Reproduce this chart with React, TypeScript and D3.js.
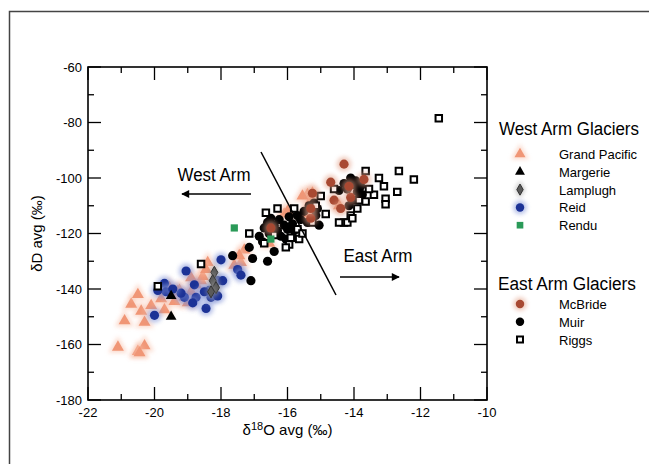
import React from 'react';
import * as d3 from 'd3';

// ---------- data ----------
const xTickValues = [-22, -20, -18, -16, -14, -12, -10];
const yTickValues = [-60, -80, -100, -120, -140, -160, -180];

const grandPacific: [number, number][] = [
  [-21.1, -161], [-20.5, -162.5], [-20.3, -160.5], [-20.45, -163],
  [-20.9, -151.5], [-20.7, -145.5], [-20.5, -142], [-20.4, -148], [-20.3, -152], [-20.1, -146],
  [-19.8, -143.5], [-19.7, -147.5], [-19.4, -144.5], [-19.25, -140.5], [-19.1, -143], [-19.0, -145],
  [-18.9, -141], [-18.75, -138.5], [-18.6, -137], [-18.55, -135.5], [-18.4, -130.5], [-18.45, -133],
  [-18.9, -136], [-19.55, -139.5], [-19.3, -141],
  [-17.4, -130.5], [-17.3, -126], [-17.45, -128], [-17.6, -131.5],
  [-16.55, -123.5], [-16.45, -118], [-16.1, -113], [-16.0, -112],
  [-15.4, -106], [-15.3, -108], [-15.25, -105.5], [-15.5, -113], [-14.45, -110], [-15.55, -106.5],
];
const margerie: [number, number][] = [[-19.5, -142.5], [-19.5, -150]];
const lamplugh: [number, number][] = [[-18.2, -134], [-18.25, -137], [-18.15, -139.5], [-18.3, -141]];
const reid: [number, number][] = [
  [-20.0, -149.5], [-19.7, -138], [-19.65, -141], [-19.05, -133.5], [-19.1, -143], [-19.2, -141.5],
  [-18.8, -138.5], [-18.75, -143], [-18.85, -145], [-18.45, -147], [-18.35, -140.5], [-18.3, -143],
  [-18.5, -141], [-18.0, -129.5], [-18.1, -137], [-17.95, -137], [-18.1, -142.5], [-17.5, -133],
  [-17.4, -135], [-19.45, -140], [-19.9, -140.5],
];
const rendu: [number, number][] = [[-17.6, -118], [-16.5, -122]];
const mcBride: [number, number][] = [
  [-14.3, -95], [-14.7, -101.5], [-14.6, -108], [-14.4, -111], [-14.1, -107], [-13.7, -100.5],
  [-15.25, -105.5], [-15.3, -114.5], [-16.5, -118], [-14.15, -103], [-15.3, -111],
];
const muir: [number, number][] = [
  [-17.15, -125], [-17.65, -128], [-17.05, -129], [-17.1, -137], [-16.6, -130], [-16.4, -126.5],
  [-16.85, -121], [-16.75, -123],
  [-16.6, -116], [-16.5, -114.5], [-16.4, -117], [-16.3, -119], [-16.2, -121], [-16.05, -122],
  [-16.25, -115], [-16.1, -117], [-15.95, -114], [-15.85, -116.5], [-15.7, -113.5], [-15.6, -115],
  [-15.5, -112], [-15.35, -110], [-15.2, -109], [-15.1, -111], [-15.15, -113.5], [-15.05, -117],
  [-15.4, -116], [-15.8, -119], [-16.0, -118.5], [-16.55, -120], [-16.7, -118],
  [-14.3, -102], [-14.2, -104], [-14.1, -100], [-14.0, -102.5], [-13.9, -105], [-13.8, -103],
  [-14.05, -108], [-13.75, -106], [-14.45, -104.5], [-13.95, -101], [-14.15, -110],
];
const riggs: [number, number][] = [
  [-11.45, -78.5], [-12.65, -97.5], [-12.2, -100.5], [-12.7, -105], [-13.05, -107.5], [-13.05, -109.5],
  [-13.1, -103], [-13.4, -106], [-13.65, -97.5], [-13.25, -100], [-13.85, -108], [-13.9, -111],
  [-14.1, -113.5], [-14.3, -116], [-14.45, -116], [-14.2, -116], [-14.85, -113], [-14.6, -104],
  [-15.0, -106.5], [-15.15, -110], [-15.8, -111], [-15.9, -121.5], [-15.65, -122], [-15.7, -118.5],
  [-15.95, -124], [-16.3, -111], [-16.65, -112.5], [-16.7, -123.5], [-17.15, -120], [-18.6, -131],
  [-19.9, -139], [-16.4, -120.5], [-15.55, -120], [-13.65, -108.5], [-13.55, -104], [-14.05, -114.5],
  [-15.25, -116], [-16.05, -125],
];

const westLegend = ['Grand Pacific', 'Margerie', 'Lamplugh', 'Reid', 'Rendu'];
const eastLegend = ['McBride', 'Muir', 'Riggs'];

// ---------- layout ----------
const W = 649, H = 464;
const X0 = 88, X1 = 487, Y0 = 67, Y1 = 400;
const FONT = "'Liberation Sans',Arial,Helvetica,sans-serif";

type Series = {
  name: string; data: [number, number][]; shape: d3.SymbolType; size: number;
  fill: string; stroke: string; strokeWidth: number; halo?: string; blur?: number;
};

const seriesDefs: Record<string, Series> = {
  'Grand Pacific': { name: 'Grand Pacific', data: grandPacific, shape: d3.symbolTriangle, size: 62, fill: '#f09676', stroke: 'none', strokeWidth: 0, halo: '#f8bca4', blur: 0.9 },
  'Margerie': { name: 'Margerie', data: margerie, shape: d3.symbolTriangle, size: 50, fill: '#000', stroke: 'none', strokeWidth: 0 },
  'Lamplugh': { name: 'Lamplugh', data: lamplugh, shape: d3.symbolDiamond, size: 42, fill: '#5a5a5a', stroke: '#333', strokeWidth: 1, halo: '#9a9a9a', blur: 0.5 },
  'Reid': { name: 'Reid', data: reid, shape: d3.symbolCircle, size: 66, fill: '#1c3296', stroke: 'none', strokeWidth: 0, halo: '#7d8fd6', blur: 0.6 },
  'Rendu': { name: 'Rendu', data: rendu, shape: d3.symbolSquare, size: 52, fill: '#2a9a58', stroke: 'none', strokeWidth: 0 },
  'McBride': { name: 'McBride', data: mcBride, shape: d3.symbolCircle, size: 66, fill: '#a84a32', stroke: 'none', strokeWidth: 0, halo: '#e3a088', blur: 0.8 },
  'Muir': { name: 'Muir', data: muir, shape: d3.symbolCircle, size: 66, fill: '#000', stroke: 'none', strokeWidth: 0 },
  'Riggs': { name: 'Riggs', data: riggs, shape: d3.symbolSquare, size: 42, fill: '#fff', stroke: '#000', strokeWidth: 2 },
};

const drawOrder = ['Grand Pacific', 'Reid', 'Lamplugh', 'Muir', 'Riggs', 'McBride', 'Margerie', 'Rendu'];

function Marker({ s, cx, cy, k = 1 }: { s: Series; cx: number; cy: number; k?: number }) {
  const path = d3.symbol().type(s.shape).size(s.size * k)() as string;
  const haloPath = d3.symbol().type(s.shape).size(s.size * k * 2.6)() as string;
  return (
    <g transform={`translate(${cx},${cy})`}>
      {s.halo && <path d={haloPath} fill={s.halo} opacity={0.55} filter="url(#haloBlur)" />}
      <path d={path} fill={s.fill} stroke={s.stroke} strokeWidth={s.strokeWidth}
        filter={s.blur ? 'url(#coreBlur)' : undefined} />
    </g>
  );
}

export default function App() {
  const x = d3.scaleLinear().domain([-22, -10]).range([X0, X1]);
  const y = d3.scaleLinear().domain([-180, -60]).range([Y1, Y0]);

  const xMinor = d3.range(-21, -10, 2);
  const yMinor = d3.range(-170, -60, 20);
  const MAJ = 13, MIN = 6;

  const legendRow = (name: string, i: number, top: number) => {
    const s = seriesDefs[name];
    const cy = top + i * 17.8;
    return (
      <g key={name}>
        <Marker s={s} cx={520} cy={cy} k={0.85} />
        <text x={559} y={cy + 5} fontSize={13} fontFamily={FONT} fill="#000">{name}</text>
      </g>
    );
  };

  return (
    <svg width={W} height={H} style={{ position: 'absolute', left: 0, top: 0, background: '#fff' }}>
      <defs>
        <filter id="haloBlur" x="-100%" y="-100%" width="300%" height="300%">
          <feGaussianBlur stdDeviation="2" />
        </filter>
        <filter id="coreBlur" x="-60%" y="-60%" width="220%" height="220%">
          <feGaussianBlur stdDeviation="0.7" />
        </filter>
        <marker id="arrowHead" viewBox="0 0 10 10" refX="9" refY="5" markerWidth="9" markerHeight="8"
          markerUnits="userSpaceOnUse" orient="auto">
          <path d="M0,0 L10,5 L0,10 Z" fill="#000" />
        </marker>
      </defs>
      <rect x={0} y={0} width={W} height={H} fill="#fff" />
      <rect x={9.5} y={11.5} width={W} height={H} fill="none" stroke="#444" strokeWidth={1.5} />

      {/* ticks */}
      <g stroke="#000" strokeWidth={1.3}>
        {xTickValues.map(v => (
          <g key={'xt' + v}>
            <line x1={x(v)} x2={x(v)} y1={Y1} y2={Y1 - MAJ} />
            <line x1={x(v)} x2={x(v)} y1={Y0} y2={Y0 + MAJ} />
          </g>
        ))}
        {xMinor.map(v => (
          <g key={'xm' + v}>
            <line x1={x(v)} x2={x(v)} y1={Y1} y2={Y1 - MIN} />
            <line x1={x(v)} x2={x(v)} y1={Y0} y2={Y0 + MIN} />
          </g>
        ))}
        {yTickValues.map(v => (
          <g key={'yt' + v}>
            <line x1={X0} x2={X0 + MAJ} y1={y(v)} y2={y(v)} />
            <line x1={X1} x2={X1 - MAJ} y1={y(v)} y2={y(v)} />
          </g>
        ))}
        {yMinor.map(v => (
          <g key={'ym' + v}>
            <line x1={X0} x2={X0 + MIN} y1={y(v)} y2={y(v)} />
            <line x1={X1} x2={X1 - MIN} y1={y(v)} y2={y(v)} />
          </g>
        ))}
      </g>
      <rect x={X0} y={Y0} width={X1 - X0} height={Y1 - Y0} fill="none" stroke="#000" strokeWidth={1.6} />

      {/* tick labels */}
      <g fontFamily={FONT} fontSize={13} fill="#000">
        {xTickValues.map(v => (
          <text key={'xl' + v} x={x(v)} y={Y1 + 17} textAnchor="middle">{v}</text>
        ))}
        {yTickValues.map(v => (
          <text key={'yl' + v} x={X0 - 6} y={y(v) + 4.5} textAnchor="end">{v}</text>
        ))}
      </g>

      {/* axis titles */}
      <text x={(X0 + X1) / 2} y={435} textAnchor="middle" fontFamily={FONT} fontSize={15} fill="#000">
        δ<tspan fontSize={11} dy={-5}>18</tspan><tspan dy={5}>O avg (‰)</tspan>
      </text>
      <text transform={`translate(42,${(Y0 + Y1) / 2}) rotate(-90)`} textAnchor="middle"
        fontFamily={FONT} fontSize={15} fill="#000">δD  avg (‰)</text>

      {/* data */}
      {drawOrder.map(name => {
        const s = seriesDefs[name];
        return (
          <g key={name}>
            {s.data.map((d, i) => <Marker key={i} s={s} cx={x(d[0])} cy={y(d[1])} />)}
          </g>
        );
      })}

      {/* annotations */}
      <line x1={261} y1={152} x2={336} y2={295} stroke="#000" strokeWidth={1.5} />
      <text x={214} y={181} textAnchor="middle" fontFamily={FONT} fontSize={18} fill="#000"
        textLength={73} lengthAdjust="spacingAndGlyphs">West Arm</text>
      <line x1={251} y1={194} x2={182} y2={194} stroke="#000" strokeWidth={1.5} markerEnd="url(#arrowHead)" />
      <text x={378} y={262} textAnchor="middle" fontFamily={FONT} fontSize={18} fill="#000"
        textLength={69} lengthAdjust="spacingAndGlyphs">East Arm</text>
      <line x1={340} y1={277} x2={399} y2={277} stroke="#000" strokeWidth={1.5} markerEnd="url(#arrowHead)" />

      {/* legend */}
      <text x={499} y={135} fontFamily={FONT} fontSize={18} fill="#000"
        textLength={140} lengthAdjust="spacingAndGlyphs">West Arm Glaciers</text>
      {westLegend.map((n, i) => legendRow(n, i, 154))}
      <text x={498} y={290} fontFamily={FONT} fontSize={18} fill="#000"
        textLength={138} lengthAdjust="spacingAndGlyphs">East Arm Glaciers</text>
      {eastLegend.map((n, i) => legendRow(n, i, 304))}
    </svg>
  );
}
